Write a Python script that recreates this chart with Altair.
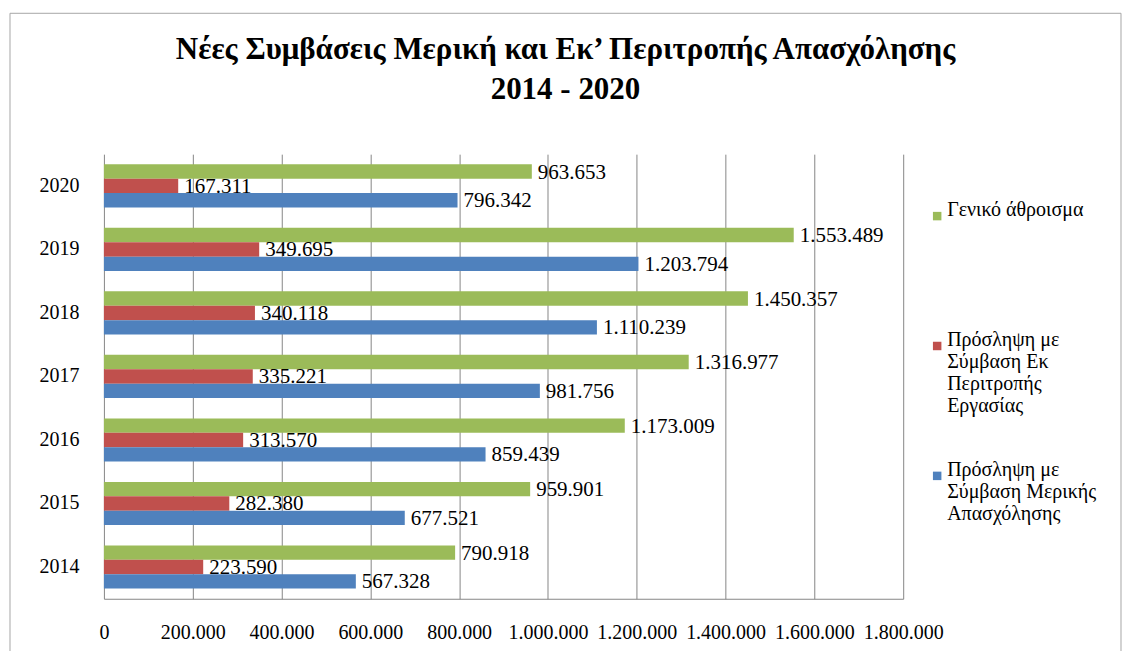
import altair as alt
import pandas as pd

FONT = "'Liberation Serif', 'Times New Roman', Times, 'DejaVu Serif', serif"

years = ["2014", "2015", "2016", "2017", "2018", "2019", "2020"]
total = [790918, 959901, 1173009, 1316977, 1450357, 1553489, 963653]
rotation = [223590, 282380, 313570, 335221, 340118, 349695, 167311]
parttime = [567328, 677521, 859439, 981756, 1110239, 1203794, 796342]

series_names = [
    "Γενικό άθροισμα",
    "Πρόσληψη με Σύμβαση Εκ Περιτροπής Εργασίας",
    "Πρόσληψη με Σύμβαση Μερικής Απασχόλησης",
]
series_lines = [
    ["Γενικό άθροισμα"],
    ["Πρόσληψη με", "Σύμβαση Εκ", "Περιτροπής", "Εργασίας"],
    ["Πρόσληψη με", "Σύμβαση Μερικής", "Απασχόλησης"],
]
colors = ["#9BBB59", "#C0504D", "#4F81BD"]
x_ticks = [0, 200000, 400000, 600000, 800000, 1000000, 1200000, 1400000, 1600000, 1800000]
title_lines = ["Νέες Συμβάσεις Μερική και Εκ’ Περιτροπής Απασχόλησης", "2014 - 2020"]

rows = []
for i, yr in enumerate(years):
    for s, vals in zip(series_names, [total, rotation, parttime]):
        rows.append({"year": yr, "series": s, "value": vals[i]})
df = pd.DataFrame(rows)


def arr(lines):
    return "[" + ",".join("'" + l + "'" for l in lines) + "]"


label_expr = (
    f"datum.label == '{series_names[0]}' ? {arr(series_lines[0])} : "
    f"datum.label == '{series_names[1]}' ? {arr(series_lines[1])} : {arr(series_lines[2])}"
)

GRID = "#868686"

y_enc = alt.Y(
    "year:N",
    sort=list(reversed(years)),
    scale=alt.Scale(paddingInner=0.32, paddingOuter=0.16),
    axis=alt.Axis(title=None, labelFont=FONT, labelFontSize=20, labelColor="black",
                  labelPadding=25, ticks=False, domain=False, grid=False),
)
yoff = alt.YOffset("series:N", sort=series_names,
                   scale=alt.Scale(domain=series_names, paddingInner=0, paddingOuter=0))
x_enc = alt.X(
    "value:Q",
    scale=alt.Scale(domain=[0, 1800000], nice=False),
    axis=alt.Axis(values=x_ticks, format=",d", title=None, labelFont=FONT, labelFontSize=20,
                  labelColor="black", labelPadding=24, ticks=False, domainColor=GRID,
                  gridColor=GRID, grid=True, labelFlush=False, labelOverlap=False),
)
color = alt.Color(
    "series:N",
    scale=alt.Scale(domain=series_names, range=colors),
    legend=alt.Legend(
        title=None, orient="none", legendX=824, legendY=52, direction="vertical",
        labelExpr=label_expr, labelFont=FONT, labelFontSize=20,
        labelBaseline="alphabetic", labelColor="black", labelLimit=400, labelOffset=0,
        symbolType="square", symbolSize=72, symbolStrokeWidth=0, gridAlign="all",
        rowPadding=44, padding=0,
    ),
)

bars = alt.Chart(df).mark_bar().encode(y=y_enc, yOffset=yoff, x=x_enc, color=color)
labels = alt.Chart(df).mark_text(
    align="left", baseline="middle", dx=6, dy=1, font=FONT, fontSize=21, color="black"
).encode(y=y_enc, yOffset=yoff, x=x_enc, text=alt.Text("value:Q", format=",d"))

frame = alt.Chart(pd.DataFrame({"f": [0]})).mark_rect(
    filled=False, stroke="#A6A6A6", strokeWidth=1
).encode(x=alt.value(-94), x2=alt.value(1018), y=alt.value(-141), y2=alt.value(505))

title = alt.Chart(pd.DataFrame({"t": ["\n".join(title_lines)]})).mark_text(
    align="center", baseline="top", font=FONT, fontSize=31, fontWeight="bold",
    lineBreak="\n", lineHeight=40, color="black"
).encode(text="t:N", x=alt.value(462), y=alt.value(-119))

chart = (
    alt.layer(frame, bars, labels, title)
    .properties(width=800, height=445, padding={"left": 1, "top": 4, "right": 0, "bottom": 0})
    .configure(font=FONT, locale={"number": {"decimal": ",", "thousands": ".", "grouping": [3],
                                             "currency": ["", " €"]}})
    .configure_view(stroke=None)
)

chart.save("out.html", embed_options={"renderer": "svg", "actions": False})
